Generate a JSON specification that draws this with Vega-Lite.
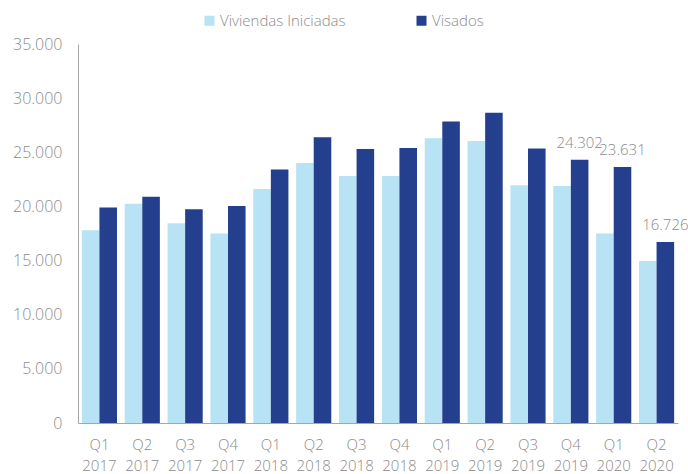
{
  "$schema": "https://vega.github.io/schema/vega-lite/v6.json",
  "width": 600,
  "height": 379,
  "autosize": {"type": "none"},
  "padding": {"left": 78, "top": 44, "right": 10, "bottom": 51},
  "background": "white",
  "config": {
    "locale": {"number": {"decimal": ",", "thousands": ".", "grouping": [3], "currency": ["", " €"]}},
    "view": {"stroke": null},
    "font": "Open Sans",
    "axis": {"labelFont": "Open Sans", "labelColor": "#8c8c8c", "labelFontSize": 16, "labelFontWeight": 300, "domainColor": "#a6a6a6", "ticks": false, "grid": false, "title": null}
  },
  "data": {
    "values": [
      {"q": "Q1 2017", "serie": "Viviendas Iniciadas", "value": 17800},
      {"q": "Q1 2017", "serie": "Visados", "value": 19900},
      {"q": "Q2 2017", "serie": "Viviendas Iniciadas", "value": 20250},
      {"q": "Q2 2017", "serie": "Visados", "value": 20900},
      {"q": "Q3 2017", "serie": "Viviendas Iniciadas", "value": 18450},
      {"q": "Q3 2017", "serie": "Visados", "value": 19750},
      {"q": "Q4 2017", "serie": "Viviendas Iniciadas", "value": 17500},
      {"q": "Q4 2017", "serie": "Visados", "value": 20050},
      {"q": "Q1 2018", "serie": "Viviendas Iniciadas", "value": 21600},
      {"q": "Q1 2018", "serie": "Visados", "value": 23400},
      {"q": "Q2 2018", "serie": "Viviendas Iniciadas", "value": 24000},
      {"q": "Q2 2018", "serie": "Visados", "value": 26400},
      {"q": "Q3 2018", "serie": "Viviendas Iniciadas", "value": 22800},
      {"q": "Q3 2018", "serie": "Visados", "value": 25300},
      {"q": "Q4 2018", "serie": "Viviendas Iniciadas", "value": 22800},
      {"q": "Q4 2018", "serie": "Visados", "value": 25400},
      {"q": "Q1 2019", "serie": "Viviendas Iniciadas", "value": 26300},
      {"q": "Q1 2019", "serie": "Visados", "value": 27850},
      {"q": "Q2 2019", "serie": "Viviendas Iniciadas", "value": 26040},
      {"q": "Q2 2019", "serie": "Visados", "value": 28650},
      {"q": "Q3 2019", "serie": "Viviendas Iniciadas", "value": 21950},
      {"q": "Q3 2019", "serie": "Visados", "value": 25350},
      {"q": "Q4 2019", "serie": "Viviendas Iniciadas", "value": 21880},
      {"q": "Q4 2019", "serie": "Visados", "value": 24302},
      {"q": "Q1 2020", "serie": "Viviendas Iniciadas", "value": 17500},
      {"q": "Q1 2020", "serie": "Visados", "value": 23631},
      {"q": "Q2 2020", "serie": "Viviendas Iniciadas", "value": 14960},
      {"q": "Q2 2020", "serie": "Visados", "value": 16726}
    ]
  },
  "encoding": {
    "x": {
      "field": "q", "type": "nominal", "sort": null,
      "scale": {"paddingInner": 0.18, "paddingOuter": 0.09},
      "axis": {"labelAngle": 0, "labelFontSize": 15, "labelPadding": 14, "labelLineHeight": 21, "labelExpr": "split(datum.label, ' ')"}
    },
    "xOffset": {"field": "serie", "type": "nominal", "sort": ["Viviendas Iniciadas", "Visados"]},
    "y": {
      "field": "value", "type": "quantitative",
      "scale": {"domain": [0, 35000], "nice": false},
      "axis": {"values": [0, 5000, 10000, 15000, 20000, 25000, 30000, 35000], "labelPadding": 16, "labelExpr": "replace(format(datum.value, ','), ',', '.')"}
    }
  },
  "layer": [
    {
      "mark": {"type": "bar"},
      "encoding": {
        "color": {
          "field": "serie", "type": "nominal",
          "scale": {"domain": ["Viviendas Iniciadas", "Visados"], "range": ["#b7e3f4", "#243f8e"]},
          "legend": {
            "title": null, "orient": "none", "direction": "horizontal",
            "legendX": 124, "legendY": -31,
            "symbolType": "square", "symbolSize": 100, "symbolStrokeWidth": 0,
            "labelFont": "Open Sans", "labelFontSize": 15, "labelFontWeight": 300, "labelColor": "#8c8c8c",
            "labelOffset": 3, "columnPadding": 68
          }
        }
      }
    },
    {
      "transform": [{"filter": "datum.serie == 'Visados' && indexof(['Q4 2019', 'Q1 2020', 'Q2 2020'], datum.q) >= 0"}],
      "mark": {"type": "text", "baseline": "alphabetic", "dy": -12, "fontSize": 15, "fontWeight": 300, "color": "#8c8c8c", "font": "Open Sans"},
      "encoding": {
        "text": {"field": "value", "type": "quantitative", "format": ",.0f"}
      }
    }
  ]
}
